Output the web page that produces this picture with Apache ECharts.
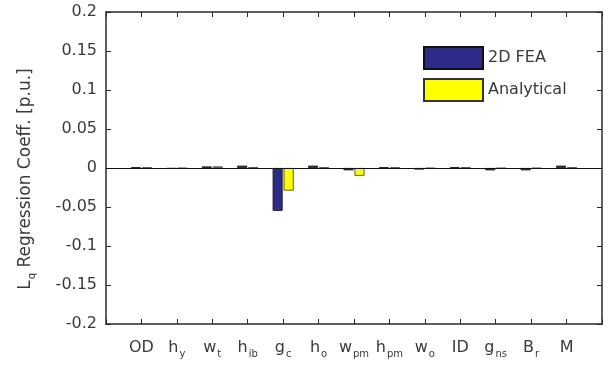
<!DOCTYPE html>
<html>
<head>
<meta charset="utf-8">
<script src="https://cdn.jsdelivr.net/npm/echarts@6/dist/echarts.min.js"></script>
<style>html,body{margin:0;padding:0;background:#fff}#c{width:611px;height:373px}</style>
</head>
<body>
<div id="c"></div>
<script>
var categories = ['OD','h_y','w_t','h_ib','g_c','h_o','w_pm','h_pm','w_o','ID','g_ns','B_r','M'];
var fea = [0.001, -0.001, 0.002, 0.003, -0.055, 0.003, -0.003, 0.001, -0.002, 0.001, -0.003, -0.003, 0.003];
var analytical = [0.0005, -0.0005, 0.002, 0.0005, -0.029, 0.0005, -0.010, 0.0005, -0.0005, 0.0005, -0.0005, -0.0005, 0.0005];
var yTicks = { min: -0.2, max: 0.2, interval: 0.05 };

function fmtCat(v) {
  var i = Math.round(v) - 1;
  if (i < 0 || i >= categories.length || Math.abs(v - Math.round(v)) > 1e-6) return '';
  var p = categories[i].split('_');
  return p.length > 1 ? '{m|' + p[0] + '}{s|' + p[1] + '}' : '{m|' + p[0] + '}';
}
function pts(arr) { return arr.map(function (v, i) { return [i + 1, v]; }); }

var chart = echarts.init(document.getElementById('c'));
var lineCol = '#2a2a2a';
var txtCol = '#3a3a3a';
var font = 'DejaVu Sans, Verdana, sans-serif';
var boxAxis = { show: true, onZero: false, lineStyle: { color: lineCol, width: 1.5 } };
var boxTick = { show: true, inside: true, length: 5, lineStyle: { color: lineCol } };
chart.setOption({
  animation: false,
  textStyle: { fontFamily: font },
  grid: { left: 106, right: 9, top: 12, bottom: 49 },
  legend: {
    orient: 'vertical', left: 418, top: 41,
    itemWidth: 59, itemHeight: 22, itemGap: 8, icon: 'rect',
    textStyle: { fontSize: 16, color: txtCol, fontFamily: font },
    data: ['2D FEA', 'Analytical']
  },
  xAxis: [{
    type: 'value', min: 0, max: 14, interval: 1, position: 'bottom',
    axisLine: boxAxis, axisTick: boxTick,
    splitLine: { show: false },
    axisLabel: {
      formatter: fmtCat, margin: 16, color: txtCol,
      rich: {
        m: { fontSize: 16, lineHeight: 16, verticalAlign: 'top', color: txtCol, fontFamily: font },
        s: { fontSize: 10, lineHeight: 10, verticalAlign: 'top', color: txtCol, fontFamily: font, padding: [9, 0, 0, 1] }
      }
    }
  }, {
    type: 'value', min: 0, max: 14, interval: 1, position: 'top',
    axisLine: boxAxis, axisTick: boxTick,
    splitLine: { show: false }, axisLabel: { show: false }
  }],
  yAxis: [{
    type: 'value', min: yTicks.min, max: yTicks.max, interval: yTicks.interval, position: 'left',
    name: '{m|L}{s|q}{m| Regression Coeff. [p.u.]}',
    nameLocation: 'middle', nameGap: 72, nameRotate: 90,
    nameTextStyle: { fontSize: 17, color: txtCol, fontFamily: font, padding: [0, 22, 0, 0],
      rich: {
        m: { fontSize: 17, lineHeight: 17, verticalAlign: 'top', color: txtCol, fontFamily: font },
        s: { fontSize: 10, lineHeight: 10, verticalAlign: 'top', color: txtCol, fontFamily: font, padding: [10, 0, 0, 1] }
      } },
    axisLine: boxAxis, axisTick: boxTick,
    splitLine: { show: false },
    axisLabel: { fontSize: 16, color: txtCol, margin: 9, fontFamily: font }
  }, {
    type: 'value', min: yTicks.min, max: yTicks.max, interval: yTicks.interval, position: 'right',
    axisLine: boxAxis, axisTick: boxTick,
    splitLine: { show: false }, axisLabel: { show: false }
  }],
  series: [{
    name: '2D FEA', type: 'bar', data: pts(fea), barWidth: 10, barGap: '10%',
    itemStyle: { color: '#2d2a88', borderColor: '#111', borderWidth: 0.8 },
    markLine: {
      silent: true, symbol: 'none', label: { show: false },
      lineStyle: { color: '#111', type: 'solid', width: 1 },
      data: [{ yAxis: 0 }]
    }
  }, {
    name: 'Analytical', type: 'bar', data: pts(analytical), barWidth: 10, barGap: '10%',
    itemStyle: { color: '#ffff00', borderColor: '#333', borderWidth: 0.8 }
  }]
});
</script>
</body>
</html>
